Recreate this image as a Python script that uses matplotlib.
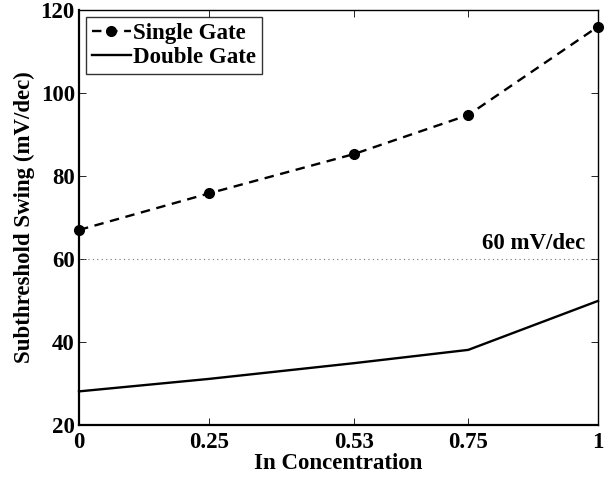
import matplotlib
matplotlib.use("Agg")
import matplotlib.pyplot as plt

plt.rcParams["font.family"] = ["Liberation Serif", "DejaVu Serif"]
plt.rcParams["font.weight"] = "bold"

conc = [0, 0.25, 0.53, 0.75, 1]
single_gate = [67.0, 75.8, 85.3, 94.7, 116.0]
double_gate = [28.1, 31.1, 34.9, 38.1, 49.9]
ref_level = 60

FS = 16.5

fig = plt.figure(figsize=(6.13, 4.78), dpi=100)
ax = fig.add_axes([0.1289, 0.1109, 0.8466, 0.8681])

ax.plot(conc, single_gate, "k--", marker="o", markersize=7, linewidth=1.7,
        dashes=(4, 2.8), label="Single Gate", clip_on=False, zorder=3)
ax.plot(conc, double_gate, "k-", linewidth=1.7, label="Double Gate",
        clip_on=False, zorder=3)
ax.axhline(ref_level, color="0.45", linestyle=(0, (1, 3)), linewidth=0.8)
ax.text(0.975, ref_level + 1.3, "60 mV/dec", ha="right", va="bottom",
        fontsize=FS, fontweight="bold")

ax.set_xlim(0, 1)
ax.set_ylim(20, 120)
ax.set_xticks(conc)
ax.set_xticklabels(["0", "0.25", "0.53", "0.75", "1"])
ax.set_yticks([20, 40, 60, 80, 100, 120])
ax.tick_params(axis="both", direction="in", top=True, right=True,
               length=5, width=0.6, labelsize=FS)
ax.tick_params(axis="x", pad=5)
ax.tick_params(axis="y", pad=3)
for lab in ax.get_xticklabels() + ax.get_yticklabels():
    lab.set_fontweight("bold")
for s in ax.spines.values():
    s.set_linewidth(1.0)
ax.spines["left"].set_linewidth(1.6)
ax.spines["bottom"].set_linewidth(1.6)

ax.set_xlabel("In Concentration", fontsize=FS, fontweight="bold", labelpad=0)
ax.set_ylabel("Subthreshold Swing (mV/dec)", fontsize=FS, fontweight="bold", labelpad=4)

leg = ax.legend(loc="upper left", fontsize=FS, frameon=True, fancybox=False,
                borderaxespad=0.3, handlelength=1.7, handletextpad=0.1,
                labelspacing=0.15, borderpad=0.25)
leg.get_frame().set_edgecolor("black")
leg.get_frame().set_linewidth(1.0)
for t in leg.get_texts():
    t.set_fontweight("bold")

fig.savefig("out.png", dpi=100)
